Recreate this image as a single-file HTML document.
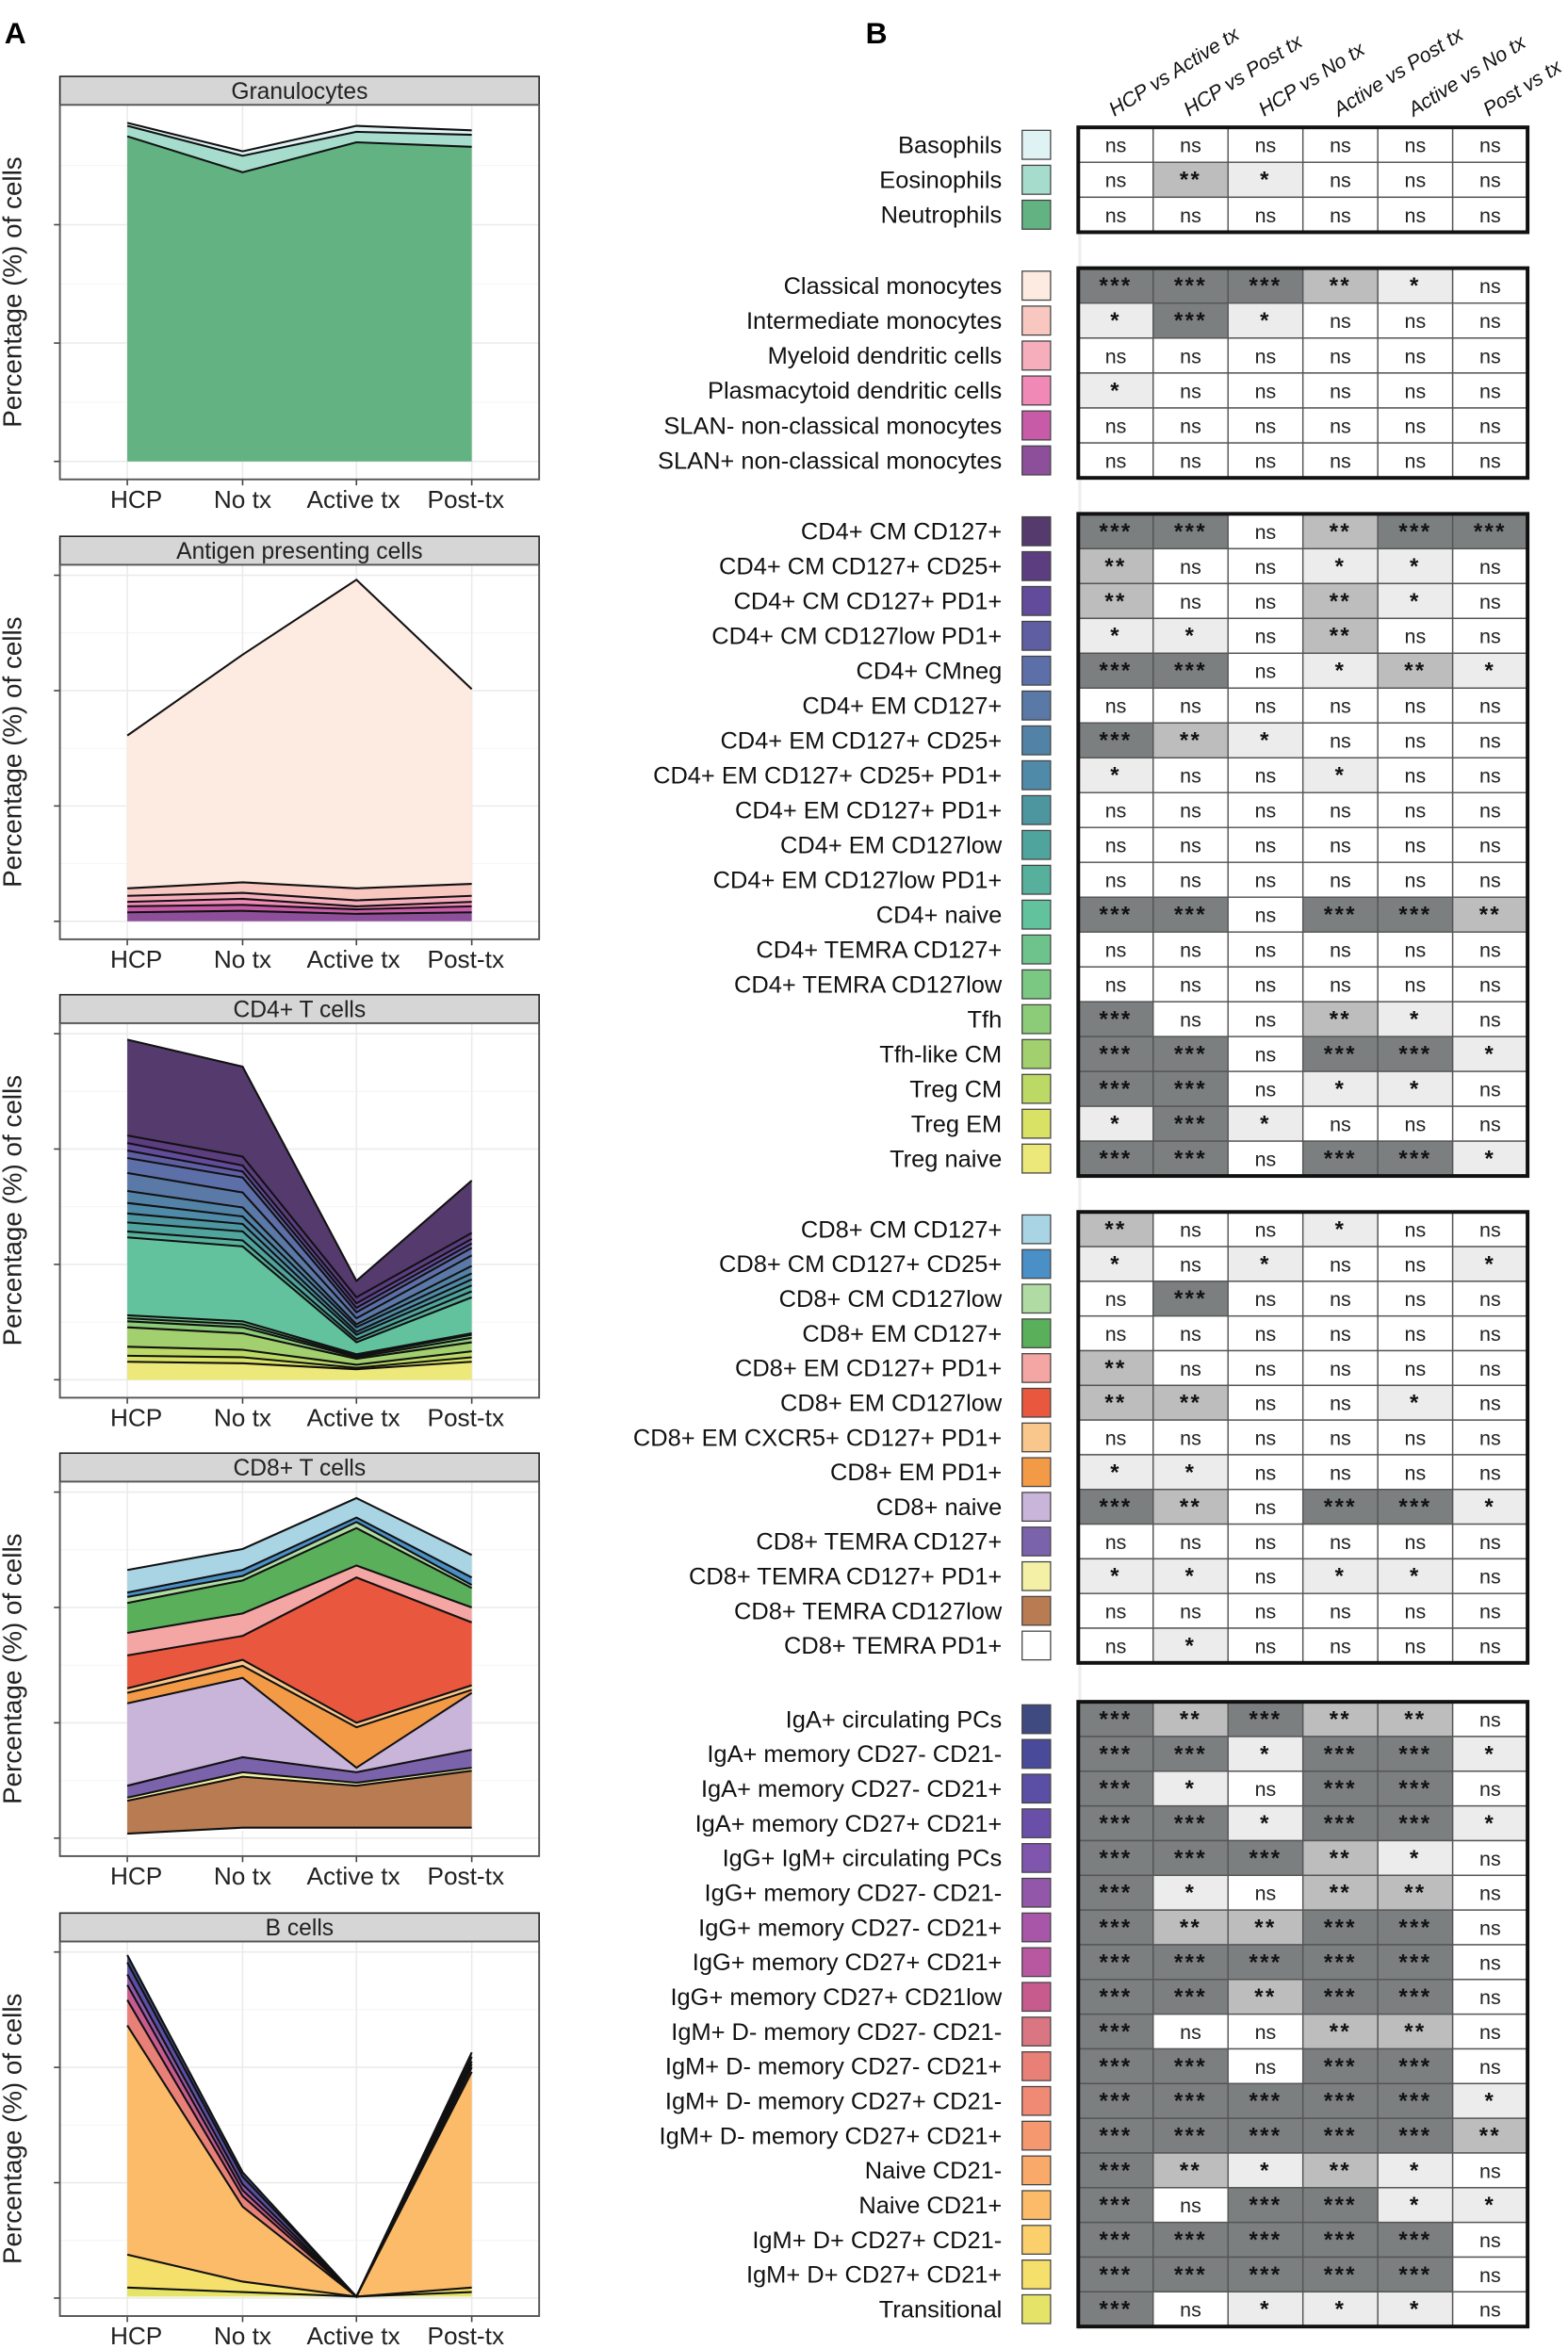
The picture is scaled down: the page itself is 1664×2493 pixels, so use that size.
<!DOCTYPE html>
<html><head><meta charset="utf-8"><style>
html,body{margin:0;padding:0;background:#fff}
svg{display:block}
text{font-family:"Liberation Sans",Arial,sans-serif}
</style></head><body>
<svg id="s" xmlns="http://www.w3.org/2000/svg" width="1664" height="2493" viewBox="0 0 1047 1568" preserveAspectRatio="none">
<text x="3" y="29" font-size="20" font-weight="bold">A</text>
<text x="578" y="29" font-size="20" font-weight="bold">B</text>
</svg>
<script>
const svg=document.getElementById('s');const NS='http://www.w3.org/2000/svg';
function el(t,a,txt){const e=document.createElementNS(NS,t);for(const k in a)e.setAttribute(k,a[k]);if(txt!==undefined)e.textContent=txt;svg.appendChild(e);return e;}
const XS=[85,162,238,315];
function panel(top,title,B,C,nt){
 const pt=top+19,pb=top+269,base=pt+238;
 el('rect',{x:40,y:top,width:320,height:19,fill:'#d6d6d6',stroke:'#222','stroke-width':1});
 el('text',{x:200,y:top+15,'font-size':15.5,'text-anchor':'middle',fill:'#222'},title);
 el('rect',{x:40,y:pt,width:320,height:250,fill:'#fff',stroke:'none'});
 const ticks=nt==3?[base,base-79,base-158]:[base,base-77,base-154,base-231];
 for(let i=0;i<ticks.length;i++){el('line',{x1:40,x2:360,y1:ticks[i],y2:ticks[i],stroke:'#ebebeb','stroke-width':1});
  if(i<ticks.length-1||nt==3){const m=ticks[i]-(nt==3?39.5:38.5);el('line',{x1:40,x2:360,y1:m,y2:m,stroke:'#f4f4f4','stroke-width':0.6});}
  el('line',{x1:36,x2:40,y1:ticks[i],y2:ticks[i],stroke:'#444','stroke-width':1});}
 XS.forEach(x=>{el('line',{x1:x,x2:x,y1:pt,y2:pb,stroke:'#ebebeb','stroke-width':1});el('line',{x1:x,x2:x,y1:pb,y2:pb+4,stroke:'#444'});});
 for(let i=0;i<C.length;i++){const a=B[i],b=B[i+1];let p=XS.map((x,j)=>x+','+a[j]).join(' ')+' '+XS.slice().reverse().map((x,j)=>x+','+b[3-j]).join(' ');
  el('polygon',{points:p,fill:C[i],stroke:'none'});}
 for(let i=0;i<B.length;i++){el('polyline',{points:XS.map((x,j)=>x+','+B[i][j]).join(' '),fill:'none',stroke:'#111','stroke-width':(i==B.length-1?0:1.3)});}
 el('rect',{x:40,y:pt,width:320,height:250,fill:'none',stroke:'#555','stroke-width':1.2});
 ['HCP','No tx','Active tx','Post-tx'].forEach((l,j)=>el('text',{x:[91,162,236,311][j],y:pb+19,'font-size':16.5,'text-anchor':'middle',fill:'#222'},l));
 const cy=(pt+pb)/2;el('text',{x:0,y:0,'font-size':17.5,'text-anchor':'middle',fill:'#222',transform:'translate(14,'+cy+') rotate(-90)'},'Percentage (%) of cells');
}
panel(51,'Granulocytes',[[82,101,84,87],[84,104,88,90],[91,115,95,98],[308,308,308,308]],['#dff2f4','#a6dccc','#62b282'],3);
panel(358,'Antigen presenting cells',[[491,437,387,460],[593,589,593,590],[598,596,601,598],[602,600,605,602],[605,604,607,605],[609,608,610,609],[615,615,615,615]],['#fdeae0','#f8c7c0','#f6aebd','#f089b5','#c85ba8','#8e4f9a'],4);
panel(664,'CD4+ T cells',[[694,712,855,788],[758,772,866,823],[763,778,870,827],[768,782,873,830],[773,786,876,833],[783,796,880,838],[795,806,884,845],[803,812,886,850],[810,817,889,854],[816,822,891,858],[822,828,894,862],[826,832,896,866],[878,882,904,890],[880,884,905,891],[882,886,906,893],[886,890,907,896],[899,901,911,902],[905,906,913,906],[909,910,914,909],[921,921,921,921]],
['#553a6d','#5b3d80','#634b9b','#5f5ea3','#5d6fa8','#5a79a7','#5283a6','#4f8aa8','#4d96a0','#4fa59e','#56b09b','#62c29e','#6ec38d','#7bc883','#8ccb78','#a3d06e','#bcd965','#d9e264','#ede87a'],4);
panel(970,'CD8+ T cells',[[1048,1034,1000,1038],[1063,1048,1013,1053],[1066,1052,1016,1058],[1070,1055,1020,1060],[1090,1077,1045,1073],[1105,1092,1053,1083],[1127,1108,1150,1125],[1130,1112,1153,1128],[1137,1120,1180,1130],[1192,1173,1183,1168],[1200,1183,1190,1180],[1202,1186,1192,1182],[1224,1220,1220,1220],[1228,1222,1222,1222]],
['#a9d4e4','#4a8fc6','#b0dca4','#5aaf5b','#f4a6a4','#e9573e','#f9c78c','#f39a47','#c9b5d9','#7b63ac','#f4f0a6','#b97b51','#ffffff'],4);
panel(1277,'B cells',[[1305,1450,1533,1370],[1310,1453,1533,1373],[1318,1458,1533,1376],[1325,1462,1533,1378],[1335,1466,1533,1380],[1352,1473,1533,1383],[1505,1523,1533,1527],[1527,1530,1533,1530],[1533,1533,1533,1533]],
['#3e4a80','#5a4fa5','#9257a8','#c85b8e','#e88078','#fbbb68','#f5e06c','#e5e468'],4);

const hdr=['HCP vs Active tx','HCP vs Post tx','HCP vs No tx','Active vs Post tx','Active vs No tx','Post vs tx'];
hdr.forEach((h,i)=>el('text',{x:0,y:0,'font-size':13.5,'font-style':'italic',fill:'#111',transform:'translate('+(744+i*50)+',78) rotate(-32)'},h));
const SH={'***':'#7b7f80','**':'#bdbdbd','*':'#ececec','ns':'#ffffff'};
const G=[
[85,155,[['Basophils','#dff2f4','ns ns ns ns ns ns'],['Eosinophils','#a6dccc','ns ** * ns ns ns'],['Neutrophils','#62b282','ns ns ns ns ns ns']]],
[179,319,[['Classical monocytes','#fdeae0','*** *** *** ** * ns'],['Intermediate monocytes','#f8c7c0','* *** * ns ns ns'],['Myeloid dendritic cells','#f6aebd','ns ns ns ns ns ns'],['Plasmacytoid dendritic cells','#f089b5','* ns ns ns ns ns'],['SLAN- non-classical monocytes','#c85ba8','ns ns ns ns ns ns'],['SLAN+ non-classical monocytes','#8e4f9a','ns ns ns ns ns ns']]],
[343,785,[['CD4+ CM CD127+','#553a6d','*** *** ns ** *** ***'],['CD4+ CM CD127+ CD25+','#5b3d80','** ns ns * * ns'],['CD4+ CM CD127+ PD1+','#634b9b','** ns ns ** * ns'],['CD4+ CM CD127low PD1+','#5f5ea3','* * ns ** ns ns'],['CD4+ CMneg','#5d6fa8','*** *** ns * ** *'],['CD4+ EM CD127+','#5a79a7','ns ns ns ns ns ns'],['CD4+ EM CD127+ CD25+','#5283a6','*** ** * ns ns ns'],['CD4+ EM CD127+ CD25+ PD1+','#4f8aa8','* ns ns * ns ns'],['CD4+ EM CD127+ PD1+','#4d96a0','ns ns ns ns ns ns'],['CD4+ EM CD127low','#4fa59e','ns ns ns ns ns ns'],['CD4+ EM CD127low PD1+','#56b09b','ns ns ns ns ns ns'],['CD4+ naive','#62c29e','*** *** ns *** *** **'],['CD4+ TEMRA CD127+','#6ec38d','ns ns ns ns ns ns'],['CD4+ TEMRA CD127low','#7bc883','ns ns ns ns ns ns'],['Tfh','#8ccb78','*** ns ns ** * ns'],['Tfh-like CM','#a3d06e','*** *** ns *** *** *'],['Treg CM','#bcd965','*** *** ns * * ns'],['Treg EM','#d9e264','* *** * ns ns ns'],['Treg naive','#ede87a','*** *** ns *** *** *']]],
[809,1110,[['CD8+ CM CD127+','#a9d4e4','** ns ns * ns ns'],['CD8+ CM CD127+ CD25+','#4a8fc6','* ns * ns ns *'],['CD8+ CM CD127low','#b0dca4','ns *** ns ns ns ns'],['CD8+ EM CD127+','#5aaf5b','ns ns ns ns ns ns'],['CD8+ EM CD127+ PD1+','#f4a6a4','** ns ns ns ns ns'],['CD8+ EM CD127low','#e9573e','** ** ns ns * ns'],['CD8+ EM CXCR5+ CD127+ PD1+','#f9c78c','ns ns ns ns ns ns'],['CD8+ EM PD1+','#f39a47','* * ns ns ns ns'],['CD8+ naive','#c9b5d9','*** ** ns *** *** *'],['CD8+ TEMRA CD127+','#7b63ac','ns ns ns ns ns ns'],['CD8+ TEMRA CD127+ PD1+','#f4f0a6','* * ns * * ns'],['CD8+ TEMRA CD127low','#b97b51','ns ns ns ns ns ns'],['CD8+ TEMRA PD1+','#ffffff','ns * ns ns ns ns']]],
[1136,1553,[['IgA+ circulating PCs','#3e4a80','*** ** *** ** ** ns'],['IgA+ memory CD27- CD21-','#4a4a9a','*** *** * *** *** *'],['IgA+ memory CD27- CD21+','#5a4fa5','*** * ns *** *** ns'],['IgA+ memory CD27+ CD21+','#6a4fa8','*** *** * *** *** *'],['IgG+ IgM+ circulating PCs','#7f55ad','*** *** *** ** * ns'],['IgG+ memory CD27- CD21-','#9257a8','*** * ns ** ** ns'],['IgG+ memory CD27- CD21+','#a856a8','*** ** ** *** *** ns'],['IgG+ memory CD27+ CD21+','#b858a0','*** *** *** *** *** ns'],['IgG+ memory CD27+ CD21low','#c85b8e','*** *** ** *** *** ns'],['IgM+ D- memory CD27- CD21-','#d97682','*** ns ns ** ** ns'],['IgM+ D- memory CD27- CD21+','#e88078','*** *** ns *** *** ns'],['IgM+ D- memory CD27+ CD21-','#f08a74','*** *** *** *** *** *'],['IgM+ D- memory CD27+ CD21+','#f5986f','*** *** *** *** *** **'],['Naive CD21-','#f9a96a','*** ** * ** * ns'],['Naive CD21+','#fbbb68','*** ns *** *** * *'],['IgM+ D+ CD27+ CD21-','#fbcf6c','*** *** *** *** *** ns'],['IgM+ D+ CD27+ CD21+','#f5e06c','*** *** *** *** *** ns'],['Transitional','#e5e468','*** ns * * * ns']]]
];
el('rect',{x:720,y:155,width:2,height:1400,fill:'#eee'});
G.forEach(([y0,y1,rows])=>{const h=(y1-y0)/rows.length;
 rows.forEach((r,i)=>{const y=y0+i*h;
  el('text',{x:669,y:y+h/2+5.5,'font-size':16,'text-anchor':'end',fill:'#111'},r[0]);
  el('rect',{x:682.5,y:y+2,width:19,height:h-4,fill:r[1],stroke:'#444','stroke-width':0.8});
  r[2].split(' ').forEach((v,j)=>{const x=720+j*50;
   el('rect',{x:x,y:y,width:50,height:h,fill:SH[v],stroke:'#555','stroke-width':0.9});
   if(v=='ns')el('text',{x:x+25,y:y+h/2+5,'font-size':13.5,'text-anchor':'middle',fill:'#222'},'ns');
   else el('text',{x:x+25,y:y+h/2+5,'font-size':15,'font-weight':'bold','text-anchor':'middle',fill:'#111','letter-spacing':1.5},v);
  });});
 el('rect',{x:720,y:y0,width:300,height:y1-y0,fill:'none',stroke:'#111','stroke-width':2.5});
});
</script>
</body></html>
